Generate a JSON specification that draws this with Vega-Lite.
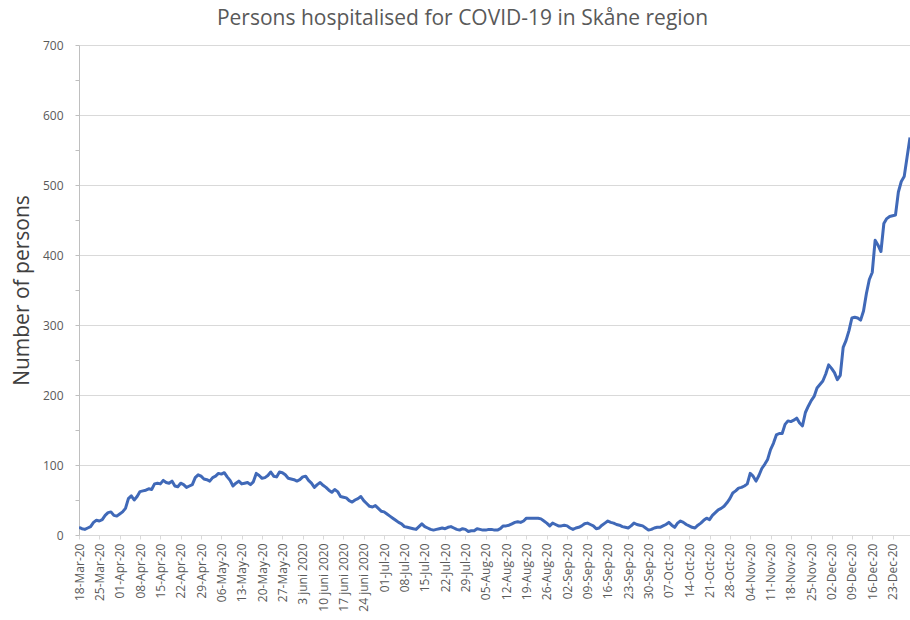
{
  "$schema": "https://vega.github.io/schema/vega-lite/v6.json",
  "autosize": {"type": "none"},
  "padding": {"left": 79, "top": 45, "right": 0, "bottom": 85},
  "width": 831,
  "height": 490,
  "background": "white",
  "title": {
    "text": "Persons hospitalised for COVID-19 in Skåne region",
    "font": "Open Sans",
    "fontSize": 21,
    "fontWeight": "normal",
    "color": "#595959",
    "anchor": "middle",
    "dx": -32,
    "offset": 10
  },
  "config": {
    "view": {"stroke": null},
    "font": "Open Sans"
  },
  "data": {
    "values": [
      {"d":"2020-03-18","n":11},{"d":"2020-03-19","n":9},{"d":"2020-03-20","n":8},{"d":"2020-03-21","n":10},{"d":"2020-03-22","n":12},{"d":"2020-03-23","n":18},{"d":"2020-03-24","n":21},{"d":"2020-03-25","n":20},{"d":"2020-03-26","n":22},{"d":"2020-03-27","n":28},{"d":"2020-03-28","n":32},{"d":"2020-03-29","n":33},{"d":"2020-03-30","n":28},{"d":"2020-03-31","n":27},
      {"d":"2020-04-01","n":30},{"d":"2020-04-02","n":33},{"d":"2020-04-03","n":38},{"d":"2020-04-04","n":52},{"d":"2020-04-05","n":56},{"d":"2020-04-06","n":50},{"d":"2020-04-07","n":55},{"d":"2020-04-08","n":62},{"d":"2020-04-09","n":63},{"d":"2020-04-10","n":64},{"d":"2020-04-11","n":66},{"d":"2020-04-12","n":65},{"d":"2020-04-13","n":73},{"d":"2020-04-14","n":74},{"d":"2020-04-15","n":73},{"d":"2020-04-16","n":78},{"d":"2020-04-17","n":75},{"d":"2020-04-18","n":74},{"d":"2020-04-19","n":77},{"d":"2020-04-20","n":70},{"d":"2020-04-21","n":69},{"d":"2020-04-22","n":74},{"d":"2020-04-23","n":72},{"d":"2020-04-24","n":68},{"d":"2020-04-25","n":70},{"d":"2020-04-26","n":72},{"d":"2020-04-27","n":82},{"d":"2020-04-28","n":86},{"d":"2020-04-29","n":84},{"d":"2020-04-30","n":80},
      {"d":"2020-05-01","n":79},{"d":"2020-05-02","n":77},{"d":"2020-05-03","n":82},{"d":"2020-05-04","n":84},{"d":"2020-05-05","n":88},{"d":"2020-05-06","n":87},{"d":"2020-05-07","n":89},{"d":"2020-05-08","n":83},{"d":"2020-05-09","n":78},{"d":"2020-05-10","n":70},{"d":"2020-05-11","n":74},{"d":"2020-05-12","n":77},{"d":"2020-05-13","n":73},{"d":"2020-05-14","n":74},{"d":"2020-05-15","n":75},{"d":"2020-05-16","n":72},{"d":"2020-05-17","n":76},{"d":"2020-05-18","n":88},{"d":"2020-05-19","n":85},{"d":"2020-05-20","n":81},{"d":"2020-05-21","n":82},{"d":"2020-05-22","n":85},{"d":"2020-05-23","n":90},{"d":"2020-05-24","n":84},{"d":"2020-05-25","n":83},{"d":"2020-05-26","n":90},{"d":"2020-05-27","n":89},{"d":"2020-05-28","n":86},{"d":"2020-05-29","n":81},{"d":"2020-05-30","n":80},{"d":"2020-05-31","n":79},
      {"d":"2020-06-01","n":77},{"d":"2020-06-02","n":79},{"d":"2020-06-03","n":83},{"d":"2020-06-04","n":84},{"d":"2020-06-05","n":78},{"d":"2020-06-06","n":74},{"d":"2020-06-07","n":68},{"d":"2020-06-08","n":72},{"d":"2020-06-09","n":75},{"d":"2020-06-10","n":71},{"d":"2020-06-11","n":68},{"d":"2020-06-12","n":64},{"d":"2020-06-13","n":61},{"d":"2020-06-14","n":65},{"d":"2020-06-15","n":62},{"d":"2020-06-16","n":55},{"d":"2020-06-17","n":54},{"d":"2020-06-18","n":53},{"d":"2020-06-19","n":49},{"d":"2020-06-20","n":47},{"d":"2020-06-21","n":50},{"d":"2020-06-22","n":52},{"d":"2020-06-23","n":55},{"d":"2020-06-24","n":49},{"d":"2020-06-25","n":45},{"d":"2020-06-26","n":41},{"d":"2020-06-27","n":40},{"d":"2020-06-28","n":42},{"d":"2020-06-29","n":38},{"d":"2020-06-30","n":34},
      {"d":"2020-07-01","n":33},{"d":"2020-07-02","n":30},{"d":"2020-07-03","n":27},{"d":"2020-07-04","n":24},{"d":"2020-07-05","n":21},{"d":"2020-07-06","n":18},{"d":"2020-07-07","n":16},{"d":"2020-07-08","n":12},{"d":"2020-07-09","n":11},{"d":"2020-07-10","n":10},{"d":"2020-07-11","n":9},{"d":"2020-07-12","n":8},{"d":"2020-07-13","n":12},{"d":"2020-07-14","n":16},{"d":"2020-07-15","n":12},{"d":"2020-07-16","n":10},{"d":"2020-07-17","n":8},{"d":"2020-07-18","n":7},{"d":"2020-07-19","n":8},{"d":"2020-07-20","n":9},{"d":"2020-07-21","n":10},{"d":"2020-07-22","n":9},{"d":"2020-07-23","n":11},{"d":"2020-07-24","n":12},{"d":"2020-07-25","n":10},{"d":"2020-07-26","n":8},{"d":"2020-07-27","n":7},{"d":"2020-07-28","n":9},{"d":"2020-07-29","n":8},{"d":"2020-07-30","n":5},{"d":"2020-07-31","n":6},
      {"d":"2020-08-01","n":6},{"d":"2020-08-02","n":9},{"d":"2020-08-03","n":8},{"d":"2020-08-04","n":7},{"d":"2020-08-05","n":7},{"d":"2020-08-06","n":8},{"d":"2020-08-07","n":8},{"d":"2020-08-08","n":7},{"d":"2020-08-09","n":7},{"d":"2020-08-10","n":9},{"d":"2020-08-11","n":13},{"d":"2020-08-12","n":13},{"d":"2020-08-13","n":14},{"d":"2020-08-14","n":16},{"d":"2020-08-15","n":18},{"d":"2020-08-16","n":19},{"d":"2020-08-17","n":18},{"d":"2020-08-18","n":20},{"d":"2020-08-19","n":24},{"d":"2020-08-20","n":24},{"d":"2020-08-21","n":24},{"d":"2020-08-22","n":24},{"d":"2020-08-23","n":24},{"d":"2020-08-24","n":23},{"d":"2020-08-25","n":20},{"d":"2020-08-26","n":17},{"d":"2020-08-27","n":13},{"d":"2020-08-28","n":17},{"d":"2020-08-29","n":15},{"d":"2020-08-30","n":13},{"d":"2020-08-31","n":13},
      {"d":"2020-09-01","n":14},{"d":"2020-09-02","n":13},{"d":"2020-09-03","n":10},{"d":"2020-09-04","n":8},{"d":"2020-09-05","n":10},{"d":"2020-09-06","n":11},{"d":"2020-09-07","n":13},{"d":"2020-09-08","n":16},{"d":"2020-09-09","n":17},{"d":"2020-09-10","n":15},{"d":"2020-09-11","n":13},{"d":"2020-09-12","n":9},{"d":"2020-09-13","n":10},{"d":"2020-09-14","n":14},{"d":"2020-09-15","n":17},{"d":"2020-09-16","n":20},{"d":"2020-09-17","n":18},{"d":"2020-09-18","n":17},{"d":"2020-09-19","n":15},{"d":"2020-09-20","n":14},{"d":"2020-09-21","n":12},{"d":"2020-09-22","n":11},{"d":"2020-09-23","n":10},{"d":"2020-09-24","n":13},{"d":"2020-09-25","n":17},{"d":"2020-09-26","n":15},{"d":"2020-09-27","n":14},{"d":"2020-09-28","n":13},{"d":"2020-09-29","n":10},{"d":"2020-09-30","n":7},
      {"d":"2020-10-01","n":8},{"d":"2020-10-02","n":10},{"d":"2020-10-03","n":11},{"d":"2020-10-04","n":11},{"d":"2020-10-05","n":13},{"d":"2020-10-06","n":15},{"d":"2020-10-07","n":18},{"d":"2020-10-08","n":14},{"d":"2020-10-09","n":11},{"d":"2020-10-10","n":17},{"d":"2020-10-11","n":20},{"d":"2020-10-12","n":18},{"d":"2020-10-13","n":15},{"d":"2020-10-14","n":13},{"d":"2020-10-15","n":11},{"d":"2020-10-16","n":10},{"d":"2020-10-17","n":14},{"d":"2020-10-18","n":17},{"d":"2020-10-19","n":21},{"d":"2020-10-20","n":24},{"d":"2020-10-21","n":22},{"d":"2020-10-22","n":28},{"d":"2020-10-23","n":32},{"d":"2020-10-24","n":36},{"d":"2020-10-25","n":38},{"d":"2020-10-26","n":41},{"d":"2020-10-27","n":46},{"d":"2020-10-28","n":52},{"d":"2020-10-29","n":60},{"d":"2020-10-30","n":63},{"d":"2020-10-31","n":67},
      {"d":"2020-11-01","n":68},{"d":"2020-11-02","n":70},{"d":"2020-11-03","n":73},{"d":"2020-11-04","n":88},{"d":"2020-11-05","n":84},{"d":"2020-11-06","n":77},{"d":"2020-11-07","n":85},{"d":"2020-11-08","n":95},{"d":"2020-11-09","n":101},{"d":"2020-11-10","n":108},{"d":"2020-11-11","n":122},{"d":"2020-11-12","n":131},{"d":"2020-11-13","n":143},{"d":"2020-11-14","n":145},{"d":"2020-11-15","n":145},{"d":"2020-11-16","n":158},{"d":"2020-11-17","n":163},{"d":"2020-11-18","n":162},{"d":"2020-11-19","n":164},{"d":"2020-11-20","n":167},{"d":"2020-11-21","n":160},{"d":"2020-11-22","n":156},{"d":"2020-11-23","n":175},{"d":"2020-11-24","n":184},{"d":"2020-11-25","n":192},{"d":"2020-11-26","n":198},{"d":"2020-11-27","n":210},{"d":"2020-11-28","n":215},{"d":"2020-11-29","n":220},{"d":"2020-11-30","n":230},
      {"d":"2020-12-01","n":243},{"d":"2020-12-02","n":238},{"d":"2020-12-03","n":232},{"d":"2020-12-04","n":222},{"d":"2020-12-05","n":228},{"d":"2020-12-06","n":268},{"d":"2020-12-07","n":278},{"d":"2020-12-08","n":292},{"d":"2020-12-09","n":310},{"d":"2020-12-10","n":311},{"d":"2020-12-11","n":310},{"d":"2020-12-12","n":307},{"d":"2020-12-13","n":320},{"d":"2020-12-14","n":345},{"d":"2020-12-15","n":365},{"d":"2020-12-16","n":375},{"d":"2020-12-17","n":421},{"d":"2020-12-18","n":414},{"d":"2020-12-19","n":405},{"d":"2020-12-20","n":445},{"d":"2020-12-21","n":452},{"d":"2020-12-22","n":455},{"d":"2020-12-23","n":456},{"d":"2020-12-24","n":457},{"d":"2020-12-25","n":490},{"d":"2020-12-26","n":505},{"d":"2020-12-27","n":512},{"d":"2020-12-28","n":540},{"d":"2020-12-29","n":568}
    ]
  },
  "mark": {"type": "line", "color": "#4069b8", "strokeWidth": 3, "strokeJoin": "round", "clip": true},
  "encoding": {
    "x": {
      "field": "d",
      "type": "temporal",
      "scale": {"type": "utc", "nice": false},
      "axis": {
        "title": null,
        "values": [
          {"year":2020,"month":3,"date":18,"utc":true},{"year":2020,"month":3,"date":25,"utc":true},
          {"year":2020,"month":4,"date":1,"utc":true},{"year":2020,"month":4,"date":8,"utc":true},{"year":2020,"month":4,"date":15,"utc":true},{"year":2020,"month":4,"date":22,"utc":true},{"year":2020,"month":4,"date":29,"utc":true},
          {"year":2020,"month":5,"date":6,"utc":true},{"year":2020,"month":5,"date":13,"utc":true},{"year":2020,"month":5,"date":20,"utc":true},{"year":2020,"month":5,"date":27,"utc":true},
          {"year":2020,"month":6,"date":3,"utc":true},{"year":2020,"month":6,"date":10,"utc":true},{"year":2020,"month":6,"date":17,"utc":true},{"year":2020,"month":6,"date":24,"utc":true},
          {"year":2020,"month":7,"date":1,"utc":true},{"year":2020,"month":7,"date":8,"utc":true},{"year":2020,"month":7,"date":15,"utc":true},{"year":2020,"month":7,"date":22,"utc":true},{"year":2020,"month":7,"date":29,"utc":true},
          {"year":2020,"month":8,"date":5,"utc":true},{"year":2020,"month":8,"date":12,"utc":true},{"year":2020,"month":8,"date":19,"utc":true},{"year":2020,"month":8,"date":26,"utc":true},
          {"year":2020,"month":9,"date":2,"utc":true},{"year":2020,"month":9,"date":9,"utc":true},{"year":2020,"month":9,"date":16,"utc":true},{"year":2020,"month":9,"date":23,"utc":true},{"year":2020,"month":9,"date":30,"utc":true},
          {"year":2020,"month":10,"date":7,"utc":true},{"year":2020,"month":10,"date":14,"utc":true},{"year":2020,"month":10,"date":21,"utc":true},{"year":2020,"month":10,"date":28,"utc":true},
          {"year":2020,"month":11,"date":4,"utc":true},{"year":2020,"month":11,"date":11,"utc":true},{"year":2020,"month":11,"date":18,"utc":true},{"year":2020,"month":11,"date":25,"utc":true},
          {"year":2020,"month":12,"date":2,"utc":true},{"year":2020,"month":12,"date":9,"utc":true},{"year":2020,"month":12,"date":16,"utc":true},{"year":2020,"month":12,"date":23,"utc":true}
        ],
        "labelExpr": "utcFormat(datum.value, '%m') == '06' ? utcFormat(datum.value, '%-d') + ' juni 2020' : utcFormat(datum.value, '%d-%b-%y')",
        "labelAngle": -90,
        "labelFont": "Open Sans",
        "labelFontSize": 12,
        "labelColor": "#595959",
        "labelPadding": 4,
        "labelOverlap": false,
        "labelBound": false,
        "labelFlush": false,
        "grid": false,
        "domainColor": "#d9d9d9",
        "domainWidth": 1.2,
        "tickColor": "#d9d9d9",
        "tickSize": 4
      }
    },
    "y": {
      "field": "n",
      "type": "quantitative",
      "scale": {"domain": [0, 700], "nice": false},
      "axis": {
        "title": "Number of persons",
        "titleFont": "Open Sans",
        "titleFontSize": 21,
        "titleFontWeight": "normal",
        "titleColor": "#404040",
        "titleAngle": -90,
        "titleX": -57,
        "titleY": 245,
        "titleAlign": "center",
        "titleBaseline": "middle",
        "values": [0, 50, 100, 150, 200, 250, 300, 350, 400, 450, 500, 550, 600, 650, 700],
        "labelExpr": "datum.value % 100 == 0 ? datum.label : ''",
        "labelFont": "Open Sans",
        "labelFontSize": 12,
        "labelColor": "#595959",
        "labelPadding": 12,
        "tickSize": 4,
        "tickColor": "#bfbfbf",
        "domainColor": "#bfbfbf",
        "grid": true,
        "gridColor": "#d9d9d9",
        "gridWidth": 1.2,
        "gridOpacity": {"condition": {"test": "datum.value % 100 == 0", "value": 1}, "value": 0}
      }
    }
  }
}
